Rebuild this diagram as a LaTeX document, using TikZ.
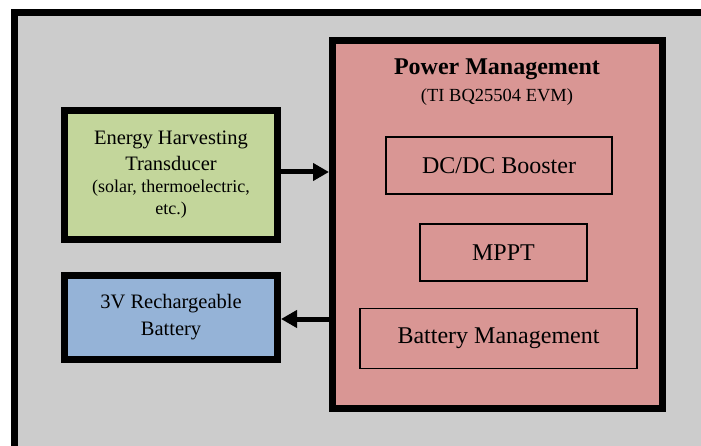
\documentclass[tikz,border=0pt]{standalone}
\usepackage{fontspec}
\setmainfont{Liberation Serif}
\usetikzlibrary{arrows.meta}
\definecolor{bggray}{RGB}{204,204,204}
\definecolor{hgreen}{RGB}{195,214,155}
\definecolor{hpink}{RGB}{217,150,148}
\definecolor{hblue}{RGB}{149,179,215}
\tikzset{
  bigbox/.style={draw=black, line width=7pt, rectangle, inner sep=0pt, align=center},
  subbox/.style={draw=black, line width=1.3pt, rectangle, fill=hpink, inner sep=0pt,
    font=\fontsize{24}{28}\selectfont},
  conn/.style={line width=5pt, -{Triangle[length=16pt, width=17pt]}},
}
\begin{document}
\begin{tikzpicture}[x=1pt, y=-1pt]
\useasboundingbox (0,0) rectangle (701,446);
\clip (0,0) rectangle (701,446);
\fill[white] (0,0) rectangle (701,446);
\draw[line width=7pt, fill=bggray] (14,12.5) rectangle (720,470);
\node[bigbox, fill=hgreen, minimum width=213pt, minimum height=129pt,
  font=\fontsize{20.5}{26}\selectfont] (green) at (171,175)
  {Energy Harvesting\\Transducer\\[-4pt]{\fontsize{18}{20}\selectfont (solar, thermoelectric,}\\[-4pt]{\fontsize{18}{20}\selectfont etc.)}};
\node[bigbox, fill=hblue, minimum width=213pt, minimum height=84pt,
  font=\fontsize{20.5}{27}\selectfont] (blue) at (171,317.5)
  {3V Rechargeable\\Battery};
\node[bigbox, fill=hpink, minimum width=330pt, minimum height=368pt] (pink) at (497.5,224.5) {};
\node[font=\fontsize{24}{27}\selectfont\bfseries] (title) at (497,69) {Power Management};
\node[font=\fontsize{18.5}{21}\selectfont] (subtitle) at (497,97) {(TI BQ25504 EVM)};
\node[subbox, minimum width=226pt, minimum height=57pt] (dcdc) at (499,165.5) {DC/DC Booster};
\node[subbox, minimum width=167pt, minimum height=57pt] (mppt) at (503.5,252.5) {MPPT};
\node[subbox, minimum width=277pt, minimum height=60pt] (bm) at (498.5,338.5) {Battery Management};
\draw[conn] ([yshift=3pt]green.east) -- ([yshift=3pt]green.east -| pink.west);
\draw[conn] ([yshift=-1.5pt]blue.east -| pink.west) -- ([yshift=-1.5pt]blue.east);
\end{tikzpicture}
\end{document}
